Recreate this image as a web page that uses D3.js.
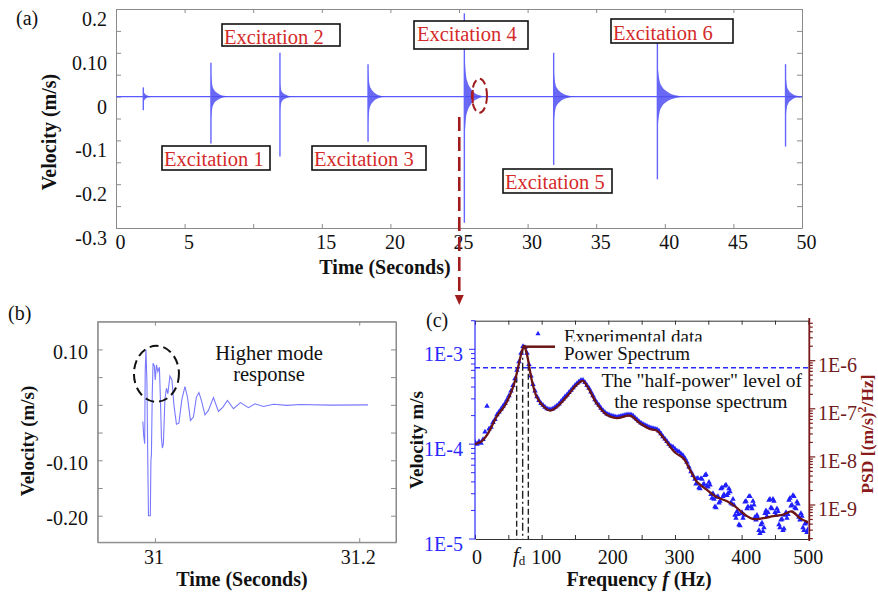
<!DOCTYPE html>
<html><head><meta charset="utf-8">
<script src="https://cdn.jsdelivr.net/npm/d3@7"></script>
<style>
body{margin:0;background:#fff}
svg{display:block}
text{font-family:"Liberation Serif","Times New Roman",Times,serif}
</style>
</head><body>
<svg id="chart" width="878" height="594"></svg>
<script>
// ---------------- DATA ----------------
// Panel (a): excitation events
const exTimes   = [1.99, 6.92, 11.95, 18.37, 25.39, 31.9, 39.46, 48.8];
const exPeak    = [0.021, 0.077, 0.10, 0.074, 0.19, 0.10, 0.122, 0.074];
const exTrough  = [-0.031, -0.107, -0.137, -0.103, -0.288, -0.156, -0.189, -0.114];
const exEnvAmp  = [0.010, 0.025, 0.015, 0.029, 0.050, 0.029, 0.036, 0.025];
const exDecay   = [0.7, 1.35, 1.1, 1.3, 1.5, 1.6, 2.0, 1.2];
const envShapeT = [0, 0.03, 0.08, 0.16, 0.3, 0.5, 0.7, 1.0];
const envShapeA = [2.2, 1.6, 1.0, 0.65, 0.38, 0.17, 0.07, 0];
const exLabels  = ["Excitation 1","Excitation 2","Excitation 3","Excitation 4","Excitation 5","Excitation 6"];
const aXTicks   = [0,5,10,15,20,25,30,35,40,45,50];
const aXLabels  = [0,5,15,20,25,30,35,40,45,50];
const aYTicks   = [-0.3,-0.25,-0.2,-0.15,-0.1,-0.05,0,0.05,0.1,0.15,0.2];
const aYLabelV  = [0.2,0.1,0,-0.1,-0.2,-0.3];
const aYLabelT  = ["0.2","0.10","0","-0.1","-0.2","-0.3"];

// Panel (b): zoomed response
const bT = [30.9882,30.9890,30.9900,30.9905,30.9912,30.9922,30.9929,30.9937,30.9955,30.9961,30.9966,30.9974,30.9982,30.9995,31.0003,31.0015,31.0029,31.0044,31.0054,31.0064,31.0073,31.0083,31.0098,31.0113,31.0127,31.0147,31.0167,31.0186,31.0211,31.0235,31.0264,31.0294,31.0318,31.0348,31.0377,31.0406,31.0431,31.0455,31.0490,31.0524,31.0573,31.0622,31.0666,31.0710,31.0769,31.0837,31.0916,31.0979,31.1063,31.1161,31.1293,31.1420,31.1714,31.2086];
const bV = [-0.030,-0.055,-0.070,0.060,0.100,0.040,-0.080,-0.200,-0.200,-0.100,-0.090,0.020,0.075,0.070,0.045,0.072,0.060,0.068,0.010,-0.060,-0.078,-0.070,0.010,0.030,0.020,0.052,0.045,0.000,-0.035,-0.033,0.010,0.033,0.015,-0.028,-0.022,0.014,0.022,0.008,-0.018,-0.010,0.013,-0.012,-0.004,0.008,-0.007,0.004,-0.005,0.002,-0.003,0.001,-0.001,0.0005,-0.0005,0.000];
const bYTicks  = [-0.2,-0.15,-0.1,-0.05,0,0.05,0.1];
const bYLabelV = [0.1,0,-0.1,-0.2];
const bYLabelT = ["0.10","0","-0.10","-0.20"];
const bXLabelV = [31, 31.2];
const bXLabelT = ["31","31.2"];

// Panel (c): spectrum (log10 of velocity)
const expF = d3.range(0, 499, 3);
const expLog = [
 -3.98,-4.00,-3.97,-3.99,-3.95,-3.87,-3.60,-3.84,-3.82,-3.77,
 -3.74,-3.69,-3.66,-3.63,-3.60,-3.57,-3.53,-3.49,-3.44,-3.38,
 -3.31,-3.22,-3.13,-3.04,-2.97,-2.98,-3.04,-3.16,-3.28,-3.37,
 -3.44,-3.50,-3.54,-3.57,-3.59,-3.61,-3.625,-3.635,-3.635,-3.625,
 -3.61,-3.595,-3.575,-3.55,-3.525,-3.50,-3.48,-3.455,-3.43,-3.405,
 -3.38,-3.36,-3.34,-3.325,-3.325,-3.35,-3.38,-3.41,-3.45,-3.49,
 -3.53,-3.565,-3.59,-3.62,-3.645,-3.665,-3.68,-3.69,-3.70,-3.705,
 -3.71,-3.715,-3.71,-3.705,-3.70,-3.695,-3.69,-3.69,-3.69,-3.70,
 -3.72,-3.74,-3.76,-3.775,-3.79,-3.80,-3.81,-3.82,-3.83,-3.835,
 -3.84,-3.845,-3.86,-3.89,-3.92,-3.945,-3.97,-4.00,-4.02,-4.03,
 -4.05,-4.07,-4.08,-4.10,-4.12,-4.15,-4.19,-4.24,-4.29,-4.33,
 -4.37,-4.36,-4.46,-4.36,-4.43,-4.33,-4.44,-4.40,-4.53,-4.52,
 -4.66,-4.56,-4.62,-4.47,-4.55,-4.44,-4.54,-4.47,-4.62,-4.58,
 -4.75,-4.71,-4.85,-4.73,-4.78,-4.61,-4.68,-4.55,-4.66,-4.60,
 -4.77,-4.75,-4.91,-4.85,-4.92,-4.73,-4.76,-4.59,-4.67,-4.58,
 -4.72,-4.68,-4.85,-4.80,-4.91,-4.75,-4.78,-4.59,-4.65,-4.54,
 -4.67,-4.61,-4.77,-4.73,-4.88,-4.84,-4.93];
const expF2 = d3.range(331.5, 500, 3);
const expLog2 = [
 -4.42,-4.36,-4.47,-4.37,-4.42,-4.32,-4.45,-4.43,-4.57,-4.58,
 -4.67,-4.55,-4.60,-4.46,-4.53,-4.43,-4.52,-4.50,-4.63,-4.64,
 -4.78,-4.74,-4.86,-4.72,-4.75,-4.60,-4.66,-4.55,-4.68,-4.64,
 -4.80,-4.78,-4.94,-4.83,-4.88,-4.70,-4.72,-4.58,-4.68,-4.60,
 -4.75,-4.71,-4.88,-4.79,-4.89,-4.72,-4.74,-4.57,-4.64,-4.55,
 -4.68,-4.63,-4.80,-4.76,-4.91,-4.83,-4.90];
const specF = [0,10,20,32.5,45,57.5,65,70,73.5,77.5,85,92.5,102.5,112.5,122.5,137.5,152.5,161.5,170,182.5,197.5,212.5,232.5,247.5,262.5,272.5,285,300,312.5,322.5,332.5,347.5,362.5,377.5,390,405,417.5,432.5,447.5,462.5,475,487.5,500];
const specLog = [-4.00,-3.97,-3.88,-3.71,-3.59,-3.39,-3.18,-3.03,-2.965,-3.04,-3.32,-3.50,-3.60,-3.646,-3.61,-3.50,-3.375,-3.333,-3.41,-3.57,-3.69,-3.726,-3.70,-3.78,-3.84,-3.856,-3.954,-4.088,-4.147,-4.27,-4.393,-4.48,-4.558,-4.60,-4.656,-4.744,-4.79,-4.78,-4.76,-4.744,-4.71,-4.78,-4.825];
const halfPower = 6.4e-4;
const fdLines = [62.5, 71.5, 80];
const fdPeak = 1.065e-3;
const cXTicks = [0,50,100,150,200,250,300,350,400,450,500];
const cXLabels = [0,100,200,300,400,500];
const cYLeftLabels = [1e-3,1e-4,1e-5];
const cYLeftText = ["1E-3","1E-4","1E-5"];
const cYRightLabels = [1e-6,1e-7,1e-8,1e-9];
const cYRightText = ["1E-6","1E-7","1E-8","1E-9"];

// ---------------- DRAW ----------------
const svg = d3.select("#chart");
const BLUE = "#2a2aff", DRED = "#7a1a1a", RED = "#d42a2a", GRAY = "#8a8a8a";

function label(g, x, y, s, size, anchor, opts = {}) {
  return g.append("text").attr("x", x).attr("y", y).text(s)
    .attr("font-size", size).attr("text-anchor", anchor || "start")
    .attr("fill", opts.fill || "#111").attr("font-weight", opts.bold ? "bold" : null)
    .attr("font-style", opts.italic ? "italic" : null);
}

// ===== Panel (a) =====
const xA = d3.scaleLinear([0, 50], [116, 802]);
const yA = d3.scaleLinear([-0.3, 0.2], [228, 9]);
const gA = svg.append("g");
gA.append("defs").append("clipPath").attr("id", "clipA").append("rect")
  .attr("x", 116).attr("y", 9).attr("width", 686).attr("height", 219);

function styleAxis(sel, col) {
  sel.selectAll("path").attr("stroke", col);
  sel.selectAll("line").attr("stroke", col);
  sel.selectAll("text").remove();
}
gA.append("g").attr("transform", "translate(0,228)")
  .call(d3.axisBottom(xA).tickValues(aXTicks).tickSize(-4).tickSizeOuter(0)).call(styleAxis, GRAY);
gA.append("g").attr("transform", "translate(0,9)")
  .call(d3.axisTop(xA).tickValues(aXTicks).tickSize(-4).tickSizeOuter(0)).call(styleAxis, GRAY);
gA.append("g").attr("transform", "translate(116,0)")
  .call(d3.axisLeft(yA).tickValues(aYTicks).tickSize(-5).tickSizeOuter(0)).call(styleAxis, GRAY);
gA.append("g").attr("transform", "translate(802,0)")
  .call(d3.axisRight(yA).tickValues(aYTicks).tickSize(-5).tickSizeOuter(0)).call(styleAxis, GRAY);

aXLabels.forEach(v => label(gA, xA(v) + 4.5, 249, String(v), 20, "middle"));
aYLabelV.forEach((v, i) => label(gA, 107, yA(v) + 17, aYLabelT[i], 20, "end"));
label(gA, 385, 274, "Time (Seconds)", 20, "middle", {bold: true});
label(gA, 0, 0, "Velocity (m/s)", 20, "middle", {bold: true})
  .attr("transform", "translate(56,132) rotate(-90)");
label(gA, 16, 25, "(a)", 20, "start");

const sigA = gA.append("g").attr("clip-path", "url(#clipA)");
sigA.append("line").attr("x1", xA(0)).attr("x2", xA(50)).attr("y1", yA(0)).attr("y2", yA(0))
  .attr("stroke", "#5a5aff").attr("stroke-width", 1.3);
const envArea = d3.area().x(d => xA(d.t)).y0(d => yA(-d.a)).y1(d => yA(d.a)).curve(d3.curveMonotoneX);
exTimes.forEach((t0, i) => {
  const pts = envShapeT.map((f, j) => ({t: t0 + f * exDecay[i], a: envShapeA[j] * exEnvAmp[i]}));
  sigA.append("path").attr("d", envArea(pts)).attr("fill", "#4f4ff2").attr("fill-opacity", 0.85);
  sigA.append("line").attr("x1", xA(t0)).attr("x2", xA(t0))
    .attr("y1", yA(exPeak[i])).attr("y2", yA(exTrough[i]))
    .attr("stroke", "#6464ff").attr("stroke-width", 1.4);
});

// excitation label boxes [x0,y0,x1,y1,textX,baseline]
const exBoxes = [[162,146,270,170,164,165.5],[222,24,340,46,224,43.6],[312,146,426,170,314,165.5],
                 [414,21,528,49,417,40.5],[503,169,612,193,505,188.8],[611,19,733,43,613,39.8]];
exLabels.forEach((s, i) => {
  const b = exBoxes[i];
  gA.append("rect").attr("x", b[0]).attr("y", b[1]).attr("width", b[2] - b[0]).attr("height", b[3] - b[1])
    .attr("fill", "#fff").attr("stroke", "#111").attr("stroke-width", 1.6);
  label(gA, b[4], b[5], s, 20.5, "start", {fill: RED});
});

// red marker ellipse + segment + arrow
gA.append("ellipse").attr("cx", xA(26.49)).attr("cy", yA(0.002)).attr("rx", 7.5).attr("ry", 17)
  .attr("fill", "none").attr("stroke", "#a01c1c").attr("stroke-width", 2).attr("stroke-dasharray", "8,4");
gA.append("line").attr("x1", xA(26.0)).attr("x2", xA(26.0)).attr("y1", 90).attr("y2", 103)
  .attr("stroke", "#b01c1c").attr("stroke-width", 2);
svg.append("line").attr("x1", xA(25.02)).attr("x2", xA(25.02)).attr("y1", 117).attr("y2", 296)
  .attr("stroke", "#a01c1c").attr("stroke-width", 2.6).attr("stroke-dasharray", "14,6");
svg.append("path").attr("d", `M${xA(25.02)-4.5},295 L${xA(25.02)+4.5},295 L${xA(25.02)},305 Z`)
  .attr("fill", "#a01c1c");

// ===== Panel (b) =====
const xB = d3.scaleLinear([30.944, 31.236], [97.7, 396]);
const yB = d3.scaleLinear([-0.248, 0.15], [542.3, 321.7]);
const gB = svg.append("g");
gB.append("rect").attr("x", 97.7).attr("y", 321.7).attr("width", 396 - 97.7).attr("height", 542.3 - 321.7)
  .attr("fill", "none").attr("stroke", GRAY);
gB.append("g").attr("transform", "translate(97.7,0)")
  .call(d3.axisLeft(yB).tickValues(bYTicks).tickSize(-5).tickSizeOuter(0)).call(styleAxis, GRAY);
gB.append("g").attr("transform", "translate(396,0)")
  .call(d3.axisRight(yB).tickValues(bYTicks).tickSize(-5).tickSizeOuter(0)).call(styleAxis, GRAY);
gB.append("g").attr("transform", "translate(0,321.7)")
  .call(d3.axisTop(xB).tickValues(bXLabelV).tickSize(-4).tickSizeOuter(0)).call(styleAxis, GRAY);
gB.append("g").attr("transform", "translate(0,542.3)")
  .call(d3.axisBottom(xB).tickValues(bXLabelV).tickSize(-4).tickSizeOuter(0)).call(styleAxis, GRAY);
bYLabelV.forEach((v, i) => label(gB, 88, yB(v) + 9.5, bYLabelT[i], 20, "end"));
bXLabelV.forEach((v, i) => label(gB, xB(v) - 1, 563.5, bXLabelT[i], 20, "middle"));
label(gB, 242, 586, "Time (Seconds)", 20, "middle", {bold: true});
label(gB, 0, 0, "Velocity (m/s)", 19, "middle", {bold: true})
  .attr("transform", "translate(34,441) rotate(-90)");
label(gB, 8, 320, "(b)", 20, "start");
const lineB = d3.line().x((d, i) => xB(bT[i])).y(d => yB(d));
gB.append("path").attr("d", lineB(bV)).attr("fill", "none").attr("stroke", "#7878ff").attr("stroke-width", 1.1);
gB.append("ellipse").attr("cx", xB(31.0015)).attr("cy", yB(0.056)).attr("rx", 22.5).attr("ry", 28)
  .attr("fill", "none").attr("stroke", "#111").attr("stroke-width", 2).attr("stroke-dasharray", "9,5");
label(gB, 269, 360, "Higher mode", 20.5, "middle");
label(gB, 269, 380.5, "response", 20.5, "middle");

// ===== Panel (c) =====
const xC = d3.scaleLinear([0, 500], [475, 808.3]);
const yCL = d3.scaleLog([1e-5, Math.pow(10, -2.6985)], [539, 320.7]);
const yCR = d3.scaleLog([Math.pow(10, -9.707), Math.pow(10, -5.168)], [539, 320.7]);
const gC = svg.append("g");
gC.append("defs").append("clipPath").attr("id", "clipC").append("rect")
  .attr("x", 475).attr("y", 320.7).attr("width", 333.3).attr("height", 218.3);

gC.append("g").attr("transform", "translate(0,539)")
  .call(d3.axisBottom(xC).tickValues(cXTicks).tickSize(-4).tickSizeOuter(0)).call(styleAxis, "#333");
gC.append("g").attr("transform", "translate(0,320.7)")
  .call(d3.axisTop(xC).tickValues(cXTicks).tickSize(-4).tickSizeOuter(0)).call(styleAxis, "#333");

// left blue log axis
const isMajor = v => Math.abs(Math.log10(v) - Math.round(Math.log10(v))) < 1e-6;
const gL = gC.append("g");
gL.append("line").attr("x1", 475).attr("x2", 475).attr("y1", 320.7).attr("y2", 539).attr("stroke", BLUE).attr("stroke-width", 1.2);
yCL.ticks().forEach(v => {
  gL.append("line").attr("x1", 475).attr("x2", 475 - (isMajor(v) ? 6 : 4))
    .attr("y1", yCL(v)).attr("y2", yCL(v)).attr("stroke", BLUE);
});
cYLeftLabels.forEach((v, i) => label(gL, 463, yCL(v) + 11.5, cYLeftText[i], 20, "end", {fill: BLUE}));

// right red log axis
const gR = gC.append("g");
gR.append("line").attr("x1", 809.3).attr("x2", 809.3).attr("y1", 318).attr("y2", 541).attr("stroke", DRED).attr("stroke-width", 1.8);
yCR.ticks().forEach(v => {
  gR.append("line").attr("x1", 809.3).attr("x2", 809.3 + (isMajor(v) ? 6 : 3.5))
    .attr("y1", yCR(v)).attr("y2", yCR(v)).attr("stroke", DRED).attr("stroke-width", 1.2);
});
cYRightLabels.forEach((v, i) => label(gR, 818, yCR(v) + 11.5, cYRightText[i], 20, "start", {fill: "#6e1c1c"}));

cXLabels.forEach(v => label(gC, xC(v) + (v === 0 ? 2 : v === 500 ? 0 : 4.5), 563.5, String(v), 20, "middle"));
const fdT = label(gC, 513, 562, "f", 21, "start", {italic: true});
fdT.append("tspan").text("d").attr("font-size", 13).attr("font-style", "normal").attr("dy", 3);

const xt = label(gC, 639, 585.5, "Frequency ", 20, "middle", {bold: true});
xt.append("tspan").text("f").attr("font-style", "italic");
xt.append("tspan").text(" (Hz)");
label(gC, 0, 0, "Velocity m/s", 19, "middle", {bold: true})
  .attr("transform", "translate(423,440) rotate(-90)");
const pt = label(gC, 0, 0, "PSD [(m/s)", 17.5, "middle", {bold: true, fill: "#8b1a1a"})
  .attr("transform", "translate(873,434) rotate(-90)");
pt.append("tspan").text("2").attr("font-size", 12).attr("dy", -7);
pt.append("tspan").text("/Hz]").attr("dy", 7);
label(gC, 426, 327, "(c)", 20, "start");

// half-power line and f_d lines
gC.append("line").attr("x1", 475).attr("x2", 808).attr("y1", yCL(halfPower)).attr("y2", yCL(halfPower))
  .attr("stroke", BLUE).attr("stroke-width", 1.4).attr("stroke-dasharray", "5,3");
fdLines.forEach((f, i) => {
  gC.append("line").attr("x1", xC(f)).attr("x2", xC(f))
    .attr("y1", i === 1 ? yCL(fdPeak) : yCL(halfPower) - (i === 2 ? 3 : 0)).attr("y2", 539)
    .attr("stroke", "#222").attr("stroke-width", 1.4)
    .attr("stroke-dasharray", i === 1 ? "8,3,2,3" : "6,3");
});

// experimental points
const plotC = gC.append("g").attr("clip-path", "url(#clipC)");
const tri = d3.symbol(d3.symbolTriangle, 13);
function drawPts(fs, ls) {
  fs.forEach((f, i) => {
    plotC.append("path").attr("d", tri()).attr("fill", "#1f1fff")
      .attr("transform", `translate(${xC(f)},${yCL(Math.pow(10, ls[i]))})`);
  });
}
drawPts(expF, expLog);
drawPts(expF2, expLog2);
// power spectrum curve
const lineC = d3.line().x((d, i) => xC(specF[i])).y(d => yCL(Math.pow(10, d))).curve(d3.curveCatmullRom.alpha(0.5));
plotC.append("path").attr("d", lineC(specLog)).attr("fill", "none").attr("stroke", "#6b1515").attr("stroke-width", 2.3);

// legend
gC.append("defs").append("clipPath").attr("id", "clipLeg").append("rect")
  .attr("x", 540).attr("y", 320).attr("width", 200).attr("height", 21.5);
gC.append("path").attr("d", d3.symbol(d3.symbolTriangle, 11)()).attr("fill", "#1f1fff")
  .attr("transform", "translate(538,333.7)");
label(gC, 564, 343.3, "Experimental data", 19, "start").attr("clip-path", "url(#clipLeg)");
gC.append("line").attr("x1", 523).attr("x2", 555).attr("y1", 346.7).attr("y2", 346.7)
  .attr("stroke", "#6b1515").attr("stroke-width", 2.5);
label(gC, 564, 359.5, "Power Spectrum", 19, "start");
label(gC, 701.7, 387.3, "The \"half-power\" level of", 19.5, "middle");
label(gC, 700.8, 408.3, "the response spectrum", 19.5, "middle");
</script>
</body></html>
